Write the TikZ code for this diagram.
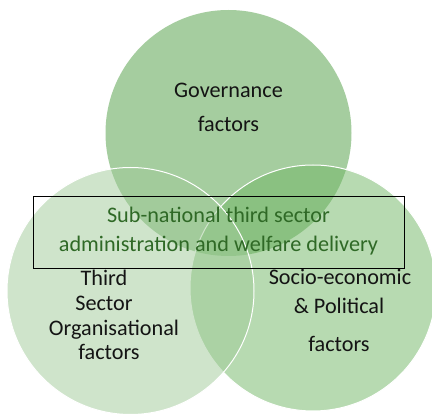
\documentclass[tikz,border=0pt]{standalone}
\usepackage{fontspec}
\setmainfont{Carlito}
\definecolor{gtop}{RGB}{77,157,65}
\definecolor{gright}{RGB}{113,183,101}
\definecolor{gleft}{RGB}{161,203,153}
\definecolor{txtgreen}{RGB}{47,105,38}
\definecolor{txtblack}{RGB}{20,20,20}
\begin{document}
\begin{tikzpicture}[x=1pt,y=-1pt,
  venn/.style={fill opacity=0.5, draw=white, draw opacity=1, line width=1pt},
  lbl/.style={font=\fontsize{22.2}{26}\selectfont, text=txtblack, inner sep=0pt, anchor=base},
  inner/.style={font=\fontsize{22.2}{26}\selectfont, text=txtgreen, inner sep=0pt, anchor=base}]
\useasboundingbox (0,0) rectangle (432,414);
\fill[white] (0,0) rectangle (432,414);
\path[venn, fill=gtop, draw=none] (228.5,133) circle[radius=123];
\path[venn, fill=gright] (313,288) circle[radius=123];
\path[venn, fill=gleft] (130.5,291) circle[radius=123.5];
\node[draw=black, line width=0.8pt, minimum width=371pt, minimum height=72pt, inner sep=0pt] (box) at (218.5,232) {};
\node[inner] (s1) at (218.5,223) {Sub-national third sector};
\node[inner] (s2) at (218.5,252) {administration and welfare delivery};
\node[lbl] (g1) at (228.5,98) {Governance};
\node[lbl] (g2) at (228.5,132) {factors};
\node[lbl] (t1) at (104,286) {Third};
\node[lbl] (t2) at (104,311) {Sector};
\node[lbl] (t3) at (114,336) {Organisational};
\node[lbl] (t4) at (109,360) {factors};
\node[lbl] (p1) at (340,285) {Socio-economic};
\node[lbl] (p2) at (339,314) {\& Political};
\node[lbl] (p3) at (339,352) {factors};
\end{tikzpicture}
\end{document}
